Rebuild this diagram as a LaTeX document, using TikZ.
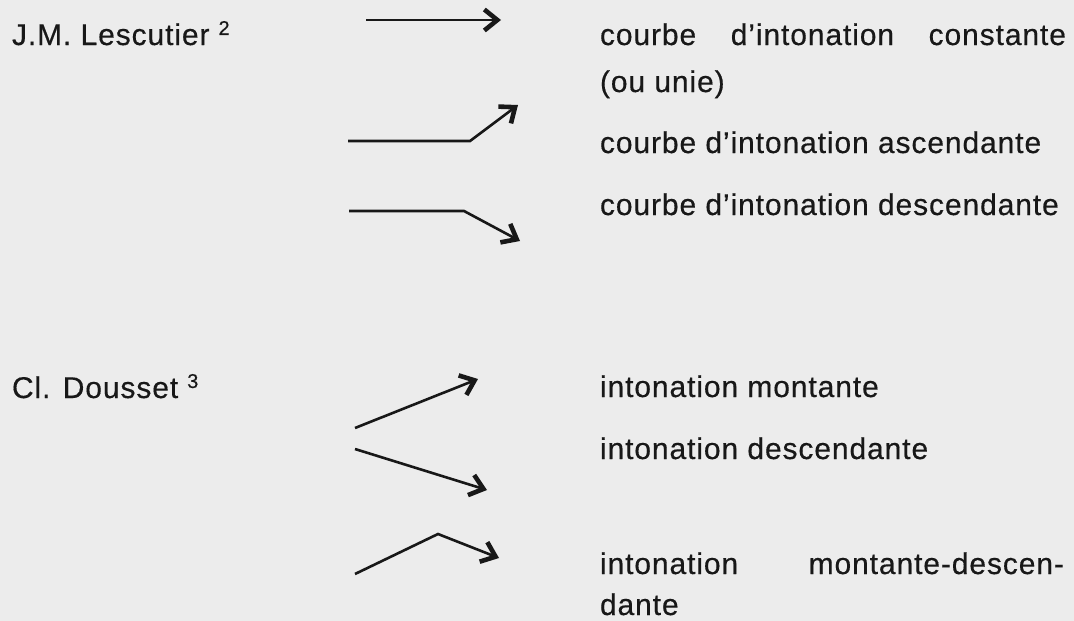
\documentclass[tikz,border=0pt]{standalone}
\usepackage{fontspec}
\setmainfont{Liberation Sans}[LetterSpace=3,FakeBold=0.4]
\usetikzlibrary{arrows.meta}
\definecolor{paper}{RGB}{236,236,236}
\definecolor{ink}{RGB}{24,24,24}
\tikzset{
  lbl/.style={anchor=base west, inner sep=0pt, outer sep=0pt, text=ink,
              font=\fontsize{30}{36}\selectfont},
  arr/.style={draw=ink, line width=2.6pt, line join=miter,
              -{Straight Barb[length=13pt,width=21pt,line width=4.6pt]}},
}
\newcommand{\supnum}[1]{\hspace{9pt}{\fontsize{20}{20}\selectfont\raisebox{10pt}{#1}}}
\begin{document}
\begin{tikzpicture}[x=1pt,y=-1pt]
  \fill[paper] (0,0) rectangle (1074,621);
  \useasboundingbox (0,0) rectangle (1074,621);

  % first author and his three contours
  \node[lbl] (lescutier) at (12,45) {J.M. Lescutier\supnum{2}};
  \node[lbl] (constante) at (600,45) {\hbox to 466pt{courbe\hfill d’intonation\hfill constante}};
  \node[lbl] (unie) at (600,92) {(ou unie)};
  \node[lbl] (ascend) at (600,153) {courbe d’intonation ascendante};
  \node[lbl] (descend) at (600,215) {courbe d’intonation descendante};

  \coordinate (a1s) at (366,20);
  \coordinate (a1e) at (501,20);
  \coordinate (a2s) at (348,141);
  \coordinate (a2k) at (470,141);
  \coordinate (a2e) at (518,105);
  \coordinate (a3s) at (349,211);
  \coordinate (a3k) at (464,211);
  \coordinate (a3e) at (520,241);
  \draw[arr] (a1s) -- (a1e);
  \draw[arr] (a2s) -- (a2k) -- (a2e);
  \draw[arr] (a3s) -- (a3k) -- (a3e);

  % second author and his three contours
  \node[lbl] (dousset) at (12,398) {Cl. Dousset\supnum{3}};
  \node[lbl] (montante) at (600,397) {intonation montante};
  \node[lbl] (descendante) at (600,459) {intonation descendante};
  \node[lbl] (montdesc) at (600,574) {\hbox to 464pt{intonation\hfill montante-descen-}};
  \node[lbl] (dante) at (600,615) {dante};

  \coordinate (b1s) at (355,428);
  \coordinate (b1e) at (478,379);
  \coordinate (b2s) at (355,449);
  \coordinate (b2e) at (487,490);
  \coordinate (b3s) at (355,574);
  \coordinate (b3k) at (438,534);
  \coordinate (b3e) at (499,558);
  \draw[arr] (b1s) -- (b1e);
  \draw[arr] (b2s) -- (b2e);
  \draw[arr] (b3s) -- (b3k) -- (b3e);
\end{tikzpicture}
\end{document}
